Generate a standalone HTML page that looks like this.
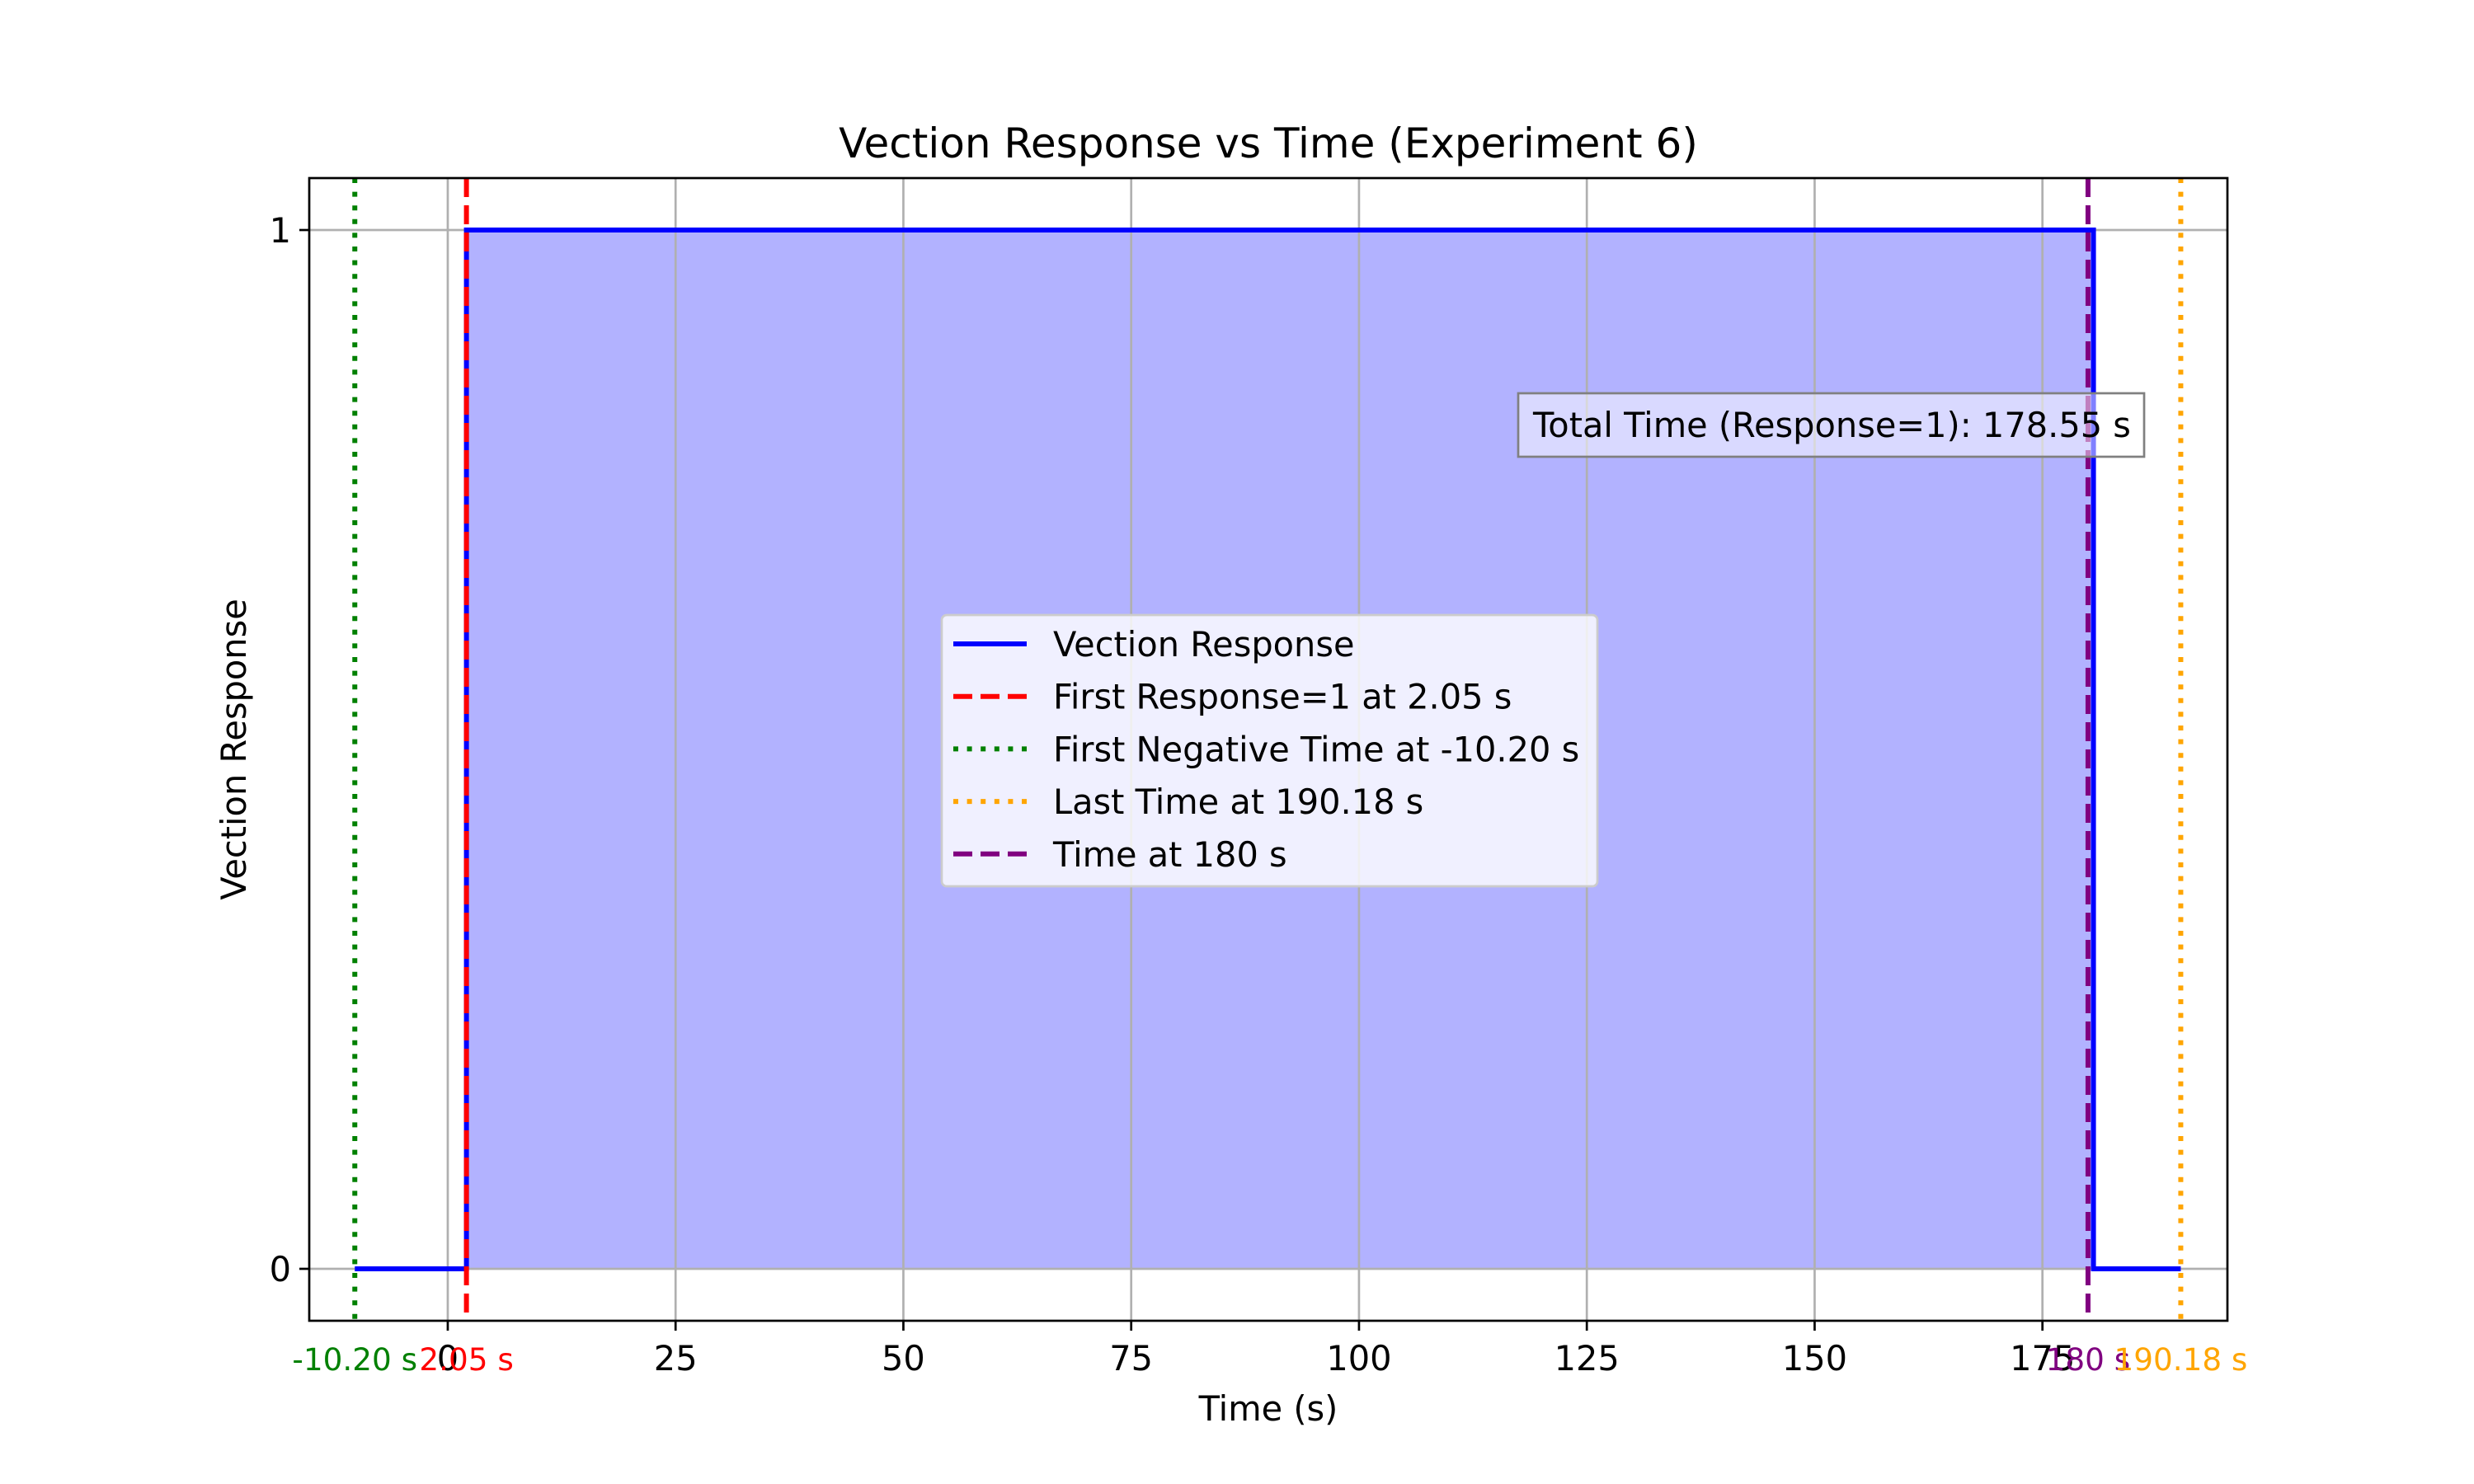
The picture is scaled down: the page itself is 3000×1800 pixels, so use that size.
<!DOCTYPE html>
<html><head><meta charset="utf-8"><style>body{margin:0;background:#fff}svg{display:block;font-family:"DejaVu Sans","Liberation Sans",sans-serif}</style></head>
<body>
<svg id="chart" width="3000" height="1800" viewBox="0 0 3000 1800">
<rect width="3000" height="1800" fill="#fff"/>
<g id="marks"></g><g id="grid"></g><g id="vl"></g><g id="axes"></g><g id="legend"></g>
</svg>
<script>
const xTicks=[0,25,50,75,100,125,150,175];
const yTicks=[0,1];
const stepTimes=[-10.2,2.05,180.6,190.18];
const stepValues=[0,1,0,0];
const firstResponse=2.05, firstNegative=-10.20, lastTime=190.18, time180=180;
const totalTime=178.55;
const L=375,R=2701,T=216,B=1602,xmin=-15.2,xmax=195.3,ymin=-0.05,ymax=1.05;
const X=v=>L+(v-xmin)/(xmax-xmin)*(R-L), Y=v=>B-(v-ymin)/(ymax-ymin)*(B-T);
const NS='http://www.w3.org/2000/svg';
const FS=41.5, LW=6;
function mk(tag,attrs,parent,text){const e=document.createElementNS(NS,tag);for(const k in attrs)e.setAttribute(k,attrs[k]);if(text!==undefined)e.textContent=text;parent.appendChild(e);return e;}
const grid=document.getElementById('grid'),marks=document.getElementById('marks'),vl=document.getElementById('vl'),axes=document.getElementById('axes'),leg=document.getElementById('legend');
xTicks.forEach(t=>{const g=mk('line',{x1:X(t),x2:X(t),y1:T,y2:B,stroke:'#b0b0b0','stroke-width':2.7},grid);


mk('line',{x1:X(t),x2:X(t),y1:B,y2:B+12,stroke:'#000','stroke-width':2.7},axes);
const tl=mk('text',{x:X(t),y:B+60,'font-size':FS,'text-anchor':'middle'},axes,String(t));

});
yTicks.forEach(t=>{const g=mk('line',{x1:L,x2:R,y1:Y(t),y2:Y(t),stroke:'#b0b0b0','stroke-width':2.7},grid);


mk('line',{x1:L-12,x2:L,y1:Y(t),y2:Y(t),stroke:'#000','stroke-width':2.7},axes);
const tl=mk('text',{x:L-22,y:Y(t)+15,'font-size':FS,'text-anchor':'end'},axes,String(t));

});
let fp='';for(let i=0;i<stepTimes.length-1;i++){if(stepValues[i]===1){fp+=`M${X(stepTimes[i])},${Y(0)}L${X(stepTimes[i])},${Y(1)}L${X(stepTimes[i+1])},${Y(1)}L${X(stepTimes[i+1])},${Y(0)}Z`;}}
const fill=mk('path',{d:fp,fill:'#0000ff','fill-opacity':0.3},marks);


let d='';stepTimes.forEach((t,i)=>{if(i===0)d+=`M${X(t)},${Y(stepValues[i])}`;else d+=`L${X(t)},${Y(stepValues[i-1])}L${X(t)},${Y(stepValues[i])}`;});
const line=mk('path',{d:d,fill:'none',stroke:'#0000ff','stroke-width':LW},vl);


const vlines=[[firstResponse,'#ff0000','23,10','first-response-line'],[firstNegative,'#008000','6,10.6','first-negative-line'],[lastTime,'#ffa500','6,10.6','last-time-line'],[time180,'#800080','23,10','time-180-line']];
vlines.forEach(v=>{const l=mk('line',{x1:X(v[0]),x2:X(v[0]),y1:T,y2:B,stroke:v[1],'stroke-width':LW,'stroke-dasharray':v[2]},vl);

});
const vlabels=[[firstNegative,'#008000',firstNegative.toFixed(2)+' s'],[firstResponse,'#ff0000',firstResponse.toFixed(2)+' s'],[time180,'#800080','180 s'],[lastTime,'#ffa500',lastTime.toFixed(2)+' s']];
vlabels.forEach(v=>{const t=mk('text',{x:X(v[0]),y:B+60,'font-size':FS*0.9,'text-anchor':'middle',fill:v[1]},axes,v[2]);

});
const frame=mk('rect',{x:L,y:T,width:R-L,height:B-T,fill:'none',stroke:'#000','stroke-width':2.7},axes);


const title=mk('text',{x:(L+R)/2,y:191,'font-size':50,'text-anchor':'middle'},axes,'Vection Response vs Time (Experiment 6)');


const xl=mk('text',{x:(L+R)/2,y:1723,'font-size':FS,'text-anchor':'middle'},axes,'Time (s)');


const yl=mk('text',{x:0,y:0,'font-size':FS,'text-anchor':'middle',transform:`translate(298,${(T+B)/2}) rotate(-90)`},axes,'Vection Response');


const tb=mk('rect',{x:1841,y:477,width:759,height:77,fill:'#ffffff','fill-opacity':0.5,stroke:'#808080','stroke-width':2.7},leg);


const tt=mk('text',{x:1859,y:530,'font-size':FS},leg,'Total Time (Response=1): '+totalTime.toFixed(2)+' s');


const lb=mk('rect',{x:1142,y:746,width:795,height:329,rx:6,fill:'#ffffff','fill-opacity':0.8,stroke:'#cccccc','stroke-width':2.7},leg);


const entries=[['Vection Response','#0000ff','none'],['First Response=1 at 2.05 s','#ff0000','23,10'],['First Negative Time at -10.20 s','#008000','6,10.6'],['Last Time at 190.18 s','#ffa500','6,10.6'],['Time at 180 s','#800080','23,10']];
entries.forEach((e,i)=>{const y=781+i*63.7;
const h=mk('line',{x1:1156,x2:1245,y1:y,y2:y,stroke:e[1],'stroke-width':LW,'stroke-dasharray':e[2]},leg);


const t=mk('text',{x:1277,y:y+15,'font-size':FS},leg,e[0]);

});
</script>
</body></html>
